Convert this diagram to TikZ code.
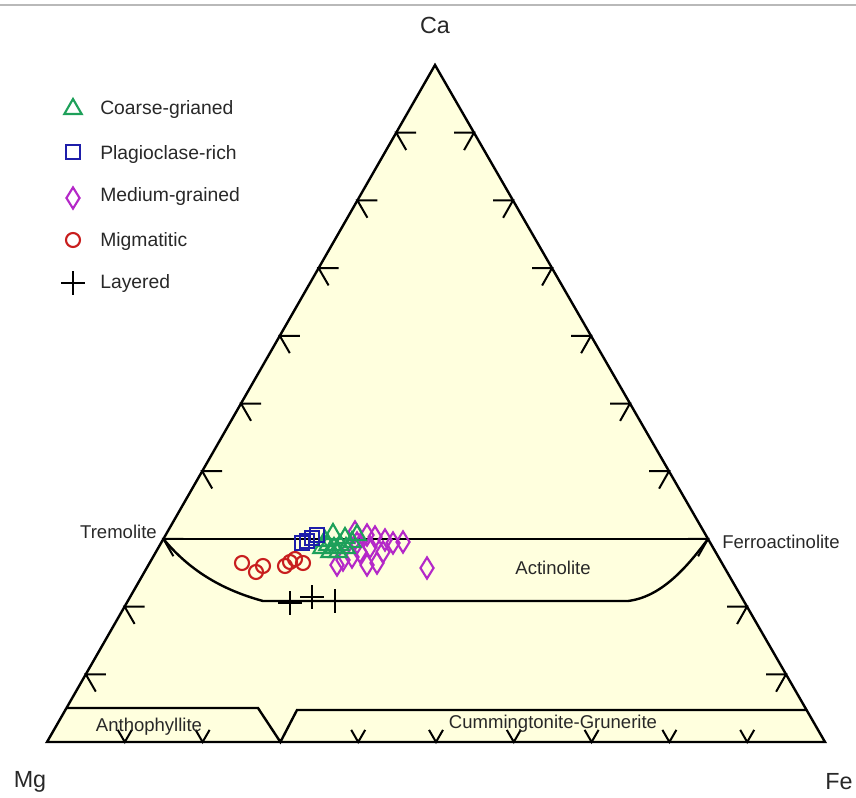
\documentclass[tikz,border=0pt]{standalone}
\usepackage{fontspec}
\setmainfont{Liberation Sans}
\usetikzlibrary{calc,shapes.geometric,shapes.misc}
\definecolor{bgyellow}{RGB}{255,255,222}
\definecolor{mgreen}{RGB}{30,160,90}
\definecolor{mblue}{RGB}{30,30,170}
\definecolor{mmag}{RGB}{180,40,200}
\definecolor{mred}{RGB}{200,30,30}
\definecolor{txt}{RGB}{40,40,40}
\begin{document}
\begin{tikzpicture}[x=0.75pt,y=-0.75pt,
  edge/.style={line width=1.8pt, black},
  tickmark/.style={line width=1.5pt, black},
  lbl/.style={font=\fontsize{13.9pt}{16pt}\selectfont, text=txt, inner sep=0pt},
  corner/.style={font=\fontsize{17.5pt}{20pt}\selectfont, text=txt, inner sep=0pt},
  leg/.style={font=\fontsize{14.5pt}{17pt}\selectfont, text=txt, inner sep=0pt, anchor=base west},
  mtri/.style={regular polygon, regular polygon sides=3, draw=mgreen, line width=1.6pt, minimum size=15pt, inner sep=0pt},
  msq/.style={rectangle, draw=mblue, line width=1.6pt, minimum size=11pt, inner sep=0pt},
  mdia/.style={diamond, draw=mmag, line width=1.6pt, minimum width=10.5pt, minimum height=16.5pt, inner sep=0pt},
  mcir/.style={circle, draw=mred, line width=1.6pt, minimum size=10.5pt, inner sep=0pt},
  mplus/.style={cross out, draw=black, rotate=45, line width=1.7pt, minimum size=10.6pt, inner sep=0pt}
]
\useasboundingbox (0,0) rectangle (856,798);
\draw[gray!55, line width=1pt] (0,5) -- (856,5);

\coordinate (Ca) at (435,65);
\coordinate (Mg) at (47,742);
\coordinate (Fe) at (825,742);

% background
\fill[bgyellow] (Mg) -- (Fe) -- (Ca) -- cycle;

% ticks
\foreach \k in {1,...,9} {
  \coordinate (L\k) at ($(Mg)!\k/10!(Ca)$);
  \draw[tickmark] ($(L\k)+(20,0)$) -- (L\k) -- ($(L\k)+(10,17.3)$);
  \coordinate (R\k) at ($(Fe)!\k/10!(Ca)$);
  \draw[tickmark] ($(R\k)+(-20,0)$) -- (R\k) -- ($(R\k)+(-9.9,17.4)$);
}
\foreach \k in {1,2,4,5,6,7,8,9} {
  \coordinate (B\k) at ($(Mg)!\k/10!(Fe)$);
  \draw[tickmark] ($(B\k)+(-7,-12.1)$) -- (B\k) -- ($(B\k)+(7,-12.1)$);
}

% field boundaries
\coordinate (Trem) at ($(Mg)!0.3!(Ca)$);
\coordinate (Ferr) at ($(Fe)!0.3!(Ca)$);
\coordinate (Ant) at ($(Mg)!0.05!(Ca)$);
\coordinate (Cum) at ($(Fe)!0.046!(Ca)$);
\coordinate (Vb) at ($(Mg)!0.3!(Fe)$);
\coordinate (a1) at (263,601);
\coordinate (a2) at (628,601);
\coordinate (v1) at (258,708);
\coordinate (v2) at (297,710);
\draw[edge] (Trem) -- (Ferr);
\draw[edge] (Trem) .. controls (185,565) and (215,588) .. (a1) -- (a2)
  .. controls (660,597) and (685,570) .. (Ferr);
\draw[edge] (Ant |- v1) -- (v1) -- (Vb) -- (v2) -- (Cum |- v2);

% outline
\draw[edge, line join=miter] (Mg) -- (Fe) -- (Ca) -- cycle;

% labels
\node[corner] (lCa) at (435,25) {Ca};
\node[corner] (lMg) at (30,782) {Mg};
\node[corner] (lFe) at (839,782) {Fe};
\node[lbl, anchor=east] (lTrem) at (157,532) {Tremolite};
\node[lbl, anchor=west] (lFerr) at (722,542) {Ferroactinolite};
\node[lbl] (lAct) at (553,568) {Actinolite};
\node[lbl, anchor=base] (lAnt) at (149,731) {Anthophyllite};
\node[lbl, anchor=base] (lCum) at (553,728) {Cummingtonite-Grunerite};

% legend
\node[mtri] (kg) at (73,109) {};
\node[leg] (tg) at (100,115) {Coarse-grianed};
\node[msq] (kb) at (73,152) {};
\node[leg] (tb) at (100,160) {Plagioclase-rich};
\node[mdia] (km) at (73,198) {};
\node[leg] (tm) at (100,202) {Medium-grained};
\node[mcir] (kr) at (73,240) {};
\node[leg] (tr) at (100,247) {Migmatitic};
\node[mplus] (kp) at (73,283) {};
\node[leg] (tp) at (100,289) {Layered};

% data
\foreach \x/\y [count=\i] in {242/563,256/572,263/566,285/566,290/562,295/559,303/563}
  \node[mcir] (r\i) at (\x,\y) {};
\foreach \x/\y [count=\i] in {337/565,343/560,352/557,360/552,367/565,377/563,383/552,370/547,357/543,355/532,367/535,375/537,385/540,393/543,403/542,427/568}
  \node[mdia] (m\i) at (\x,\y) {};
\foreach \x/\y [count=\i] in {322/548,328/545,334/548,340/545,346/548,330/552,338/552,325/541,333/534,345/538,352/542,357/535}
  \node[mtri] (g\i) at (\x,\y) {};
\foreach \x/\y [count=\i] in {302/543,307/541,312/538,317/535}
  \node[msq] (b\i) at (\x,\y) {};
\foreach \x/\y [count=\i] in {290/603,312/597,335/601}
  \node[mplus] (p\i) at (\x,\y) {};
\end{tikzpicture}
\end{document}
